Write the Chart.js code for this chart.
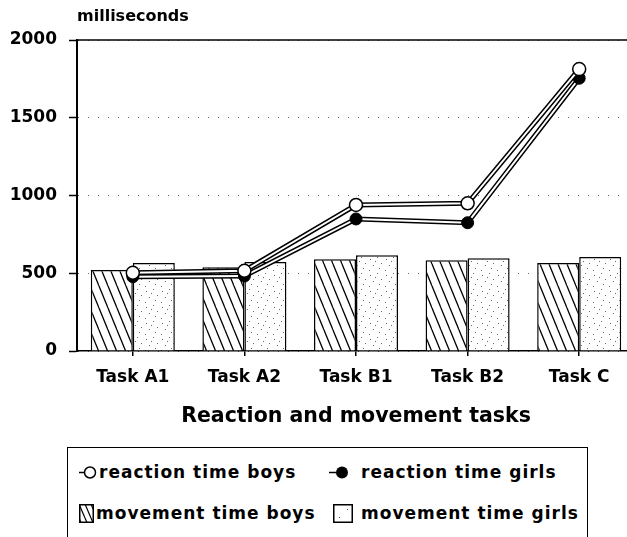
<!DOCTYPE html>
<html>
<head>
<meta charset="utf-8">
<script src="https://cdn.jsdelivr.net/npm/chart.js@4.4.1/dist/chart.umd.min.js"></script>
<style>
  html, body { margin: 0; padding: 0; background: #fff; overflow: hidden; }
  #reaction-chart { position: absolute; left: 0; top: 0; }
  #legend {
    position: absolute; left: 67px; top: 447px; width: 519px; height: 100px;
    border: 1.5px solid #000; border-bottom: none;
    font: bold 17px 'DejaVu Sans'; letter-spacing: 1px; color: #000;
  }
  .lg { position: absolute; white-space: nowrap; line-height: 20px; }
  .ic { position: absolute; }
</style>
</head>
<body>
<canvas id="reaction-chart" width="643" height="440"></canvas>
<div id="legend">
  <svg class="ic" style="left:11px;top:17px" width="18" height="15">
    <line x1="0" y1="7.5" x2="6" y2="7.5" stroke="#000" stroke-width="1.5"/>
    <circle cx="11" cy="7.5" r="5.5" fill="#fff" stroke="#000" stroke-width="1.5"/>
  </svg>
  <div class="lg" style="left:31px;top:14px">reaction time boys</div>
  <svg class="ic" style="left:261px;top:17px" width="20" height="15">
    <line x1="0" y1="7.5" x2="8" y2="7.5" stroke="#000" stroke-width="1.5"/>
    <circle cx="13" cy="7.5" r="6" fill="#000"/>
  </svg>
  <div class="lg" style="left:293px;top:14px">reaction time girls</div>
  <svg class="ic" style="left:11px;top:56px" width="15" height="19">
    <defs>
      <pattern id="hatch" width="6" height="14" patternUnits="userSpaceOnUse">
        <line x1="-6" y1="0" x2="0" y2="14" stroke="#000" stroke-width="1.2"/>
        <line x1="0" y1="0" x2="6" y2="14" stroke="#000" stroke-width="1.2"/>
        <line x1="6" y1="0" x2="12" y2="14" stroke="#000" stroke-width="1.2"/>
      </pattern>
    </defs>
    <rect x="0.75" y="0.75" width="13.5" height="17.5" fill="url(#hatch)" stroke="#000" stroke-width="1.5"/>
  </svg>
  <div class="lg" style="left:28px;top:55px">movement time boys</div>
  <svg class="ic" style="left:265px;top:56px" width="20" height="19">
    <rect x="0.75" y="0.75" width="18.5" height="17.5" fill="#fff" stroke="#000" stroke-width="1.5"/>
    <rect x="6" y="13" width="1" height="1" fill="#555"/>
    <rect x="14" y="5" width="1" height="1" fill="#555"/>
  </svg>
  <div class="lg" style="left:293px;top:55px">movement time girls</div>
</div>
<script>
const categories = ['Task A1', 'Task A2', 'Task B1', 'Task B2', 'Task C'];
const reactionBoys = [503, 516, 939, 950, 1813];
const reactionGirls = [478, 482, 849, 825, 1754];
const movementBoys = [521, 538, 590, 583, 566];
const movementGirls = [566, 572, 615, 596, 604];
const yTicks = [0, 500, 1000, 1500, 2000];

const boldFont = (size) => ({ family: 'DejaVu Sans', weight: 'bold', size: size });

// diagonal hatching for the boys bars
function hatchPattern() {
    const c = document.createElement('canvas');
    c.width = 9; c.height = 22;
    const g = c.getContext('2d');
    g.fillStyle = '#fff';
    g.fillRect(0, 0, 9, 22);
    g.strokeStyle = '#000';
    g.lineWidth = 1.3;
    for (const x0 of [-9, 0, 9]) {
        g.beginPath();
        g.moveTo(x0, 0);
        g.lineTo(x0 + 9, 22);
        g.stroke();
    }
    return g.createPattern(c, 'repeat');
}

// light stipple for the girls bars
function dotPattern() {
    const c = document.createElement('canvas');
    c.width = 16; c.height = 16;
    const g = c.getContext('2d');
    g.fillStyle = '#fff';
    g.fillRect(0, 0, 16, 16);
    g.fillStyle = '#666';
    [[2, 3], [9, 1], [13, 7], [5, 9], [11, 12], [1, 14], [7, 5]].forEach(([x, y]) => g.fillRect(x, y, 1, 1));
    return g.createPattern(c, 'repeat');
}

const topLine = {
    id: 'topLine',
    afterDraw(chart) {
        const { ctx, chartArea } = chart;
        ctx.save();
        ctx.strokeStyle = '#000';
        ctx.lineWidth = 1.5;
        ctx.beginPath();
        ctx.moveTo(chartArea.left, chartArea.top);
        ctx.lineTo(chartArea.right, chartArea.top);
        ctx.stroke();
        ctx.restore();
    }
};

const unitLabel = {
    id: 'unitLabel',
    afterDraw(chart) {
        const { ctx, chartArea } = chart;
        ctx.save();
        ctx.font = 'bold 16px "DejaVu Sans"';
        ctx.fillStyle = '#000';
        ctx.textAlign = 'left';
        ctx.textBaseline = 'middle';
        ctx.fillText('milliseconds', chartArea.left, 17);
        ctx.restore();
    }
};

const ctx = document.getElementById('reaction-chart').getContext('2d');
new Chart(ctx, {
    type: 'bar',
    data: {
        labels: categories,
        datasets: [
            // black outlines under the white reaction lines
            { type: 'line', data: reactionBoys, borderColor: '#000', borderWidth: 5, pointRadius: 0, tension: 0, order: 2 },
            { type: 'line', data: reactionGirls, borderColor: '#000', borderWidth: 5, pointRadius: 0, tension: 0, order: 2 },
            {
                type: 'line', label: 'reaction time girls', data: reactionGirls,
                borderColor: '#fff', borderWidth: 2, tension: 0,
                pointRadius: 6, pointBackgroundColor: '#000', pointBorderColor: '#000', pointBorderWidth: 1,
                order: 1
            },
            {
                type: 'line', label: 'reaction time boys', data: reactionBoys,
                borderColor: '#fff', borderWidth: 2, tension: 0,
                pointRadius: 6.5, pointBackgroundColor: '#fff', pointBorderColor: '#000', pointBorderWidth: 1.5,
                order: 0
            },
            { label: 'movement time boys', data: movementBoys, backgroundColor: hatchPattern(), borderColor: '#000', borderWidth: 1.5, order: 3 },
            { label: 'movement time girls', data: movementGirls, backgroundColor: dotPattern(), borderColor: '#000', borderWidth: 1.5, order: 3 }
        ]
    },
    options: {
        responsive: false,
        animation: false,
        layout: { padding: { top: 40, right: 0, bottom: 0, left: 0 } },
        datasets: {
            bar: { categoryPercentage: 0.753, barPercentage: 1 }
        },
        plugins: {
            legend: { display: false },
            tooltip: { enabled: false }
        },
        scales: {
            x: {
                afterFit: (s) => { s.height = 89; },
                grid: {
                    display: true, drawOnChartArea: false, drawTicks: true,
                    tickLength: 5, offset: false, color: '#000', lineWidth: 1.5
                },
                border: { display: true, color: '#000', width: 1.5 },
                ticks: { color: '#000', padding: 11, font: boldFont(17) },
                title: {
                    display: true,
                    text: 'Reaction and movement tasks',
                    color: '#000',
                    font: boldFont(20.5),
                    padding: { top: 0, bottom: 11 }
                }
            },
            y: {
                min: 0,
                max: 2000,
                afterFit: (s) => { s.width = 77; },
                afterBuildTicks: (s) => { s.ticks = yTicks.map(v => ({ value: v })); },
                grid: { color: '#666', lineWidth: 1, tickLength: 8, tickColor: '#000', tickWidth: 1.5 },
                border: { display: true, color: '#000', width: 2, dash: [1, 9] },
                ticks: {
                    color: '#000', padding: 12, font: boldFont(17),
                    callback: (v) => String(v)
                }
            }
        }
    },
    plugins: [topLine, unitLabel]
});
</script>
</body>
</html>
